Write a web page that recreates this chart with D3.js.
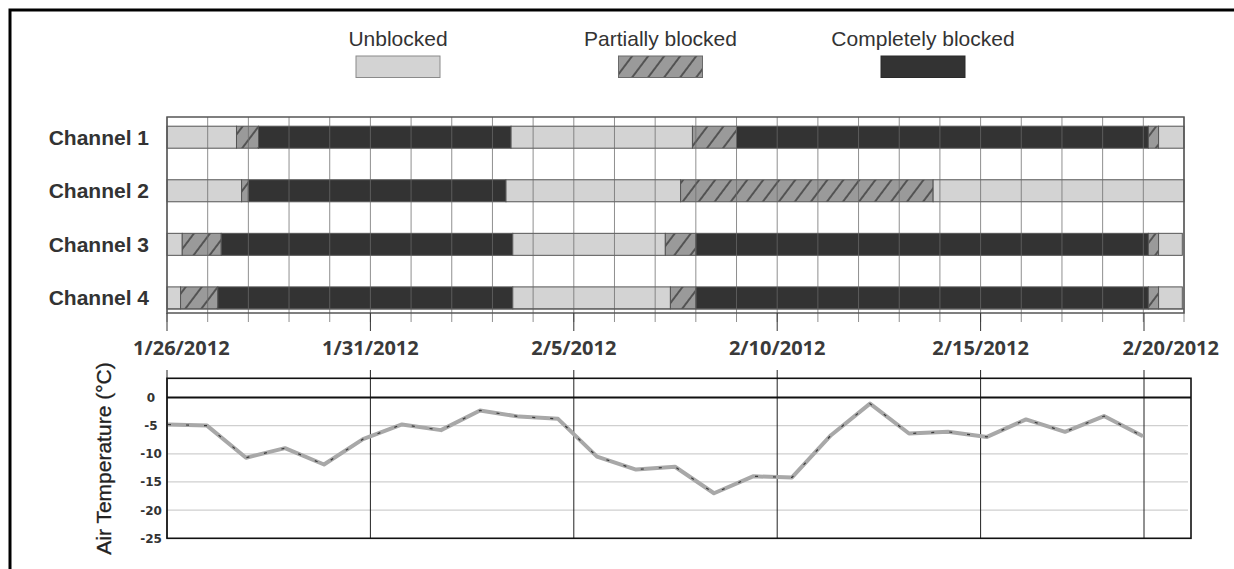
<!DOCTYPE html>
<html><head><meta charset="utf-8">
<script src="https://cdn.jsdelivr.net/npm/d3@7"></script>
<style>body{margin:0;background:#fff} svg{display:block}</style>
</head><body>
<svg id="c" width="1234" height="569"></svg>
<script>
// ---------- DATA ----------
const channels = ["Channel 1", "Channel 2", "Channel 3", "Channel 4"];
const stateCodes = ["U", "P", "C"];
const stateNames = ["Unblocked", "Partially blocked", "Completely blocked"];

// [state, start, end]
const channel1Segments = [
  ["U", "2012-01-26T00:00", "2012-01-27T17:00"],
  ["P", "2012-01-27T17:00", "2012-01-28T06:00"],
  ["C", "2012-01-28T06:00", "2012-02-03T11:00"],
  ["U", "2012-02-03T11:00", "2012-02-07T22:00"],
  ["P", "2012-02-07T22:00", "2012-02-09T00:00"],
  ["C", "2012-02-09T00:00", "2012-02-19T03:00"],
  ["P", "2012-02-19T03:00", "2012-02-19T09:00"],
  ["U", "2012-02-19T09:00", "2012-02-20T00:00"]
];
const channel2Segments = [
  ["U", "2012-01-26T00:00", "2012-01-27T20:00"],
  ["P", "2012-01-27T20:00", "2012-01-28T00:00"],
  ["C", "2012-01-28T00:00", "2012-02-03T08:00"],
  ["U", "2012-02-03T08:00", "2012-02-07T15:00"],
  ["P", "2012-02-07T15:00", "2012-02-13T20:00"],
  ["U", "2012-02-13T20:00", "2012-02-20T00:00"]
];
const channel3Segments = [
  ["U", "2012-01-26T00:00", "2012-01-26T09:00"],
  ["P", "2012-01-26T09:00", "2012-01-27T08:00"],
  ["C", "2012-01-27T08:00", "2012-02-03T12:00"],
  ["U", "2012-02-03T12:00", "2012-02-07T06:00"],
  ["P", "2012-02-07T06:00", "2012-02-08T00:00"],
  ["C", "2012-02-08T00:00", "2012-02-19T03:00"],
  ["P", "2012-02-19T03:00", "2012-02-19T09:00"],
  ["U", "2012-02-19T09:00", "2012-02-19T23:00"]
];
const channel4Segments = [
  ["U", "2012-01-26T00:00", "2012-01-26T08:00"],
  ["P", "2012-01-26T08:00", "2012-01-27T06:00"],
  ["C", "2012-01-27T06:00", "2012-02-03T12:00"],
  ["U", "2012-02-03T12:00", "2012-02-07T09:00"],
  ["P", "2012-02-07T09:00", "2012-02-08T00:00"],
  ["C", "2012-02-08T00:00", "2012-02-19T03:00"],
  ["P", "2012-02-19T03:00", "2012-02-19T09:00"],
  ["U", "2012-02-19T09:00", "2012-02-19T23:00"]
];

const tempDates = ["2012-01-26","2012-01-27","2012-01-28","2012-01-29","2012-01-30","2012-01-31",
  "2012-02-01","2012-02-02","2012-02-03","2012-02-04","2012-02-05","2012-02-06","2012-02-07",
  "2012-02-08","2012-02-09","2012-02-10","2012-02-11","2012-02-12","2012-02-13","2012-02-14",
  "2012-02-15","2012-02-16","2012-02-17","2012-02-18","2012-02-19","2012-02-20"];
const tempValues = [-4.8, -5.0, -10.7, -9.0, -11.9, -7.4,
  -4.8, -5.8, -2.3, -3.4, -3.8, -10.5, -12.8,
  -12.3, -17.0, -14.0, -14.2, -6.7, -1.1, -6.4,
  -6.1, -7.0, -3.9, -6.1, -3.3, -6.9];

const majorTickDates = ["2012-01-26","2012-01-31","2012-02-05","2012-02-10","2012-02-15","2012-02-20"];
const majorTickLabels = ["1/26/2012","1/31/2012","2/5/2012","2/10/2012","2/15/2012","2/20/2012"];
const tempTicks = [0, -5, -10, -15, -20, -25];

// ---------- SETUP ----------
const pT = d3.timeParse("%Y-%m-%dT%H:%M");
const pD = d3.timeParse("%Y-%m-%d");
const svg = d3.select("#c");
const ink = "#333";

const defs = svg.append("defs");
const pat = defs.append("pattern").attr("id", "hatch")
  .attr("patternUnits", "userSpaceOnUse").attr("width", 12.8).attr("height", 12.8)
  .attr("patternTransform", "rotate(37)");
pat.append("rect").attr("width", 12.8).attr("height", 12.8).attr("fill", "#9a9a9a");
pat.append("line").attr("x1", 1).attr("y1", 0).attr("x2", 1).attr("y2", 12.8)
  .attr("stroke", "#1a1a1a").attr("stroke-width", 1.1);

const fills = { U: "#d3d3d3", P: "url(#hatch)", C: "#333333" };
const strokes = { U: "#8a8a8a", P: "#6a6a6a", C: "#2a2a2a" };

// outer frame
svg.append("path").attr("d", "M10,569V10H1234").attr("fill", "none")
  .attr("stroke", "#000").attr("stroke-width", 3);

// ---------- LEGEND ----------
const legendX = d3.scalePoint().domain(stateCodes).range([398, 923]);
const lg = svg.append("g").selectAll("g").data(stateCodes).join("g");
lg.append("text").attr("x", d => legendX(d)).attr("y", 46).attr("text-anchor", "middle")
  .attr("font-family", "Liberation Sans, Arial, sans-serif").attr("font-size", 21).attr("fill", ink)
  .text((d, i) => stateNames[i]);
lg.append("rect").attr("x", d => legendX(d) - 42).attr("y", 56).attr("width", 84).attr("height", 21.5)
  .attr("fill", d => fills[d]).attr("stroke", d => strokes[d]).attr("stroke-width", 1);

// ---------- TOP CHART ----------
const start = pD("2012-01-26"), end = pD("2012-02-20");
const x = d3.scaleTime().domain([start, end]).range([167, 1184]);
const top0 = 117, bot0 = 313;
const y = d3.scalePoint().domain(channels).range([137.2, 297.9]);
const barH = 22;
const overlayX = d3.scaleTime().domain([start, pD("2012-02-15"), end])
  .range([x(start), x(pD("2012-02-15")), 1144]);

const allSegs = [channel1Segments, channel2Segments, channel3Segments, channel4Segments];
const gBars = svg.append("g");
allSegs.forEach((segs, ci) => {
  gBars.selectAll(null).data(segs).join("rect")
    .attr("x", d => x(pT(d[1])))
    .attr("width", d => x(pT(d[2])) - x(pT(d[1])))
    .attr("y", y(channels[ci]) - barH / 2).attr("height", barH)
    .attr("fill", d => fills[d[0]]).attr("stroke", "#555").attr("stroke-width", 1);
});

// day grid over bars
const days = d3.timeDay.range(start, d3.timeDay.offset(end, 1));
svg.append("g").selectAll("line").data(days).join("line")
  .attr("x1", d => x(d)).attr("x2", d => x(d)).attr("y1", top0).attr("y2", bot0 + 9)
  .attr("stroke", "#6a6a6a").attr("stroke-opacity", 0.75).attr("stroke-width", 1);

// frame
svg.append("rect").attr("x", x(start)).attr("y", top0).attr("width", x(end) - x(start))
  .attr("height", bot0 - top0).attr("fill", "none").attr("stroke", "#555").attr("stroke-width", 1.5);
svg.append("line").attr("x1", x(start)).attr("x2", x(end)).attr("y1", bot0 - 4).attr("y2", bot0 - 4)
  .attr("stroke", "#555").attr("stroke-width", 1.2);

// channel labels
svg.append("g").selectAll("text").data(channels).join("text")
  .attr("x", 149).attr("y", d => y(d) + 7.5).attr("text-anchor", "end")
  .attr("font-family", "Liberation Sans, Arial, sans-serif").attr("font-weight", "bold")
  .attr("font-size", 21).attr("fill", ink).text(d => d);

// major ticks
const majors = majorTickDates.map(pD);
svg.append("g").selectAll("line").data(majors).join("line")
  .attr("x1", d => overlayX(d)).attr("x2", d => overlayX(d)).attr("y1", bot0).attr("y2", 331)
  .attr("stroke", "#333").attr("stroke-width", 1);

// date labels: inner ones centred on their tick, end ones pulled inside the figure
const nLab = majors.length;
svg.append("g").selectAll("text").data(majors).join("text")
  .attr("y", 355)
  .attr("text-anchor", (d, i) => i === 0 ? "start" : (i === nLab - 1 ? "end" : "middle"))
  .attr("x", (d, i) => i === 0 ? overlayX(d) - 34 : (i === nLab - 1 ? 1219 : overlayX(d)))
  .attr("font-family", "Open Sans, sans-serif").attr("font-weight", "bold")
  .attr("font-size", 20).attr("fill", "#3a3a3a")
  .text((d, i) => majorTickLabels[i]);

// ---------- TEMPERATURE CHART ----------
const tx = d3.scaleTime().domain([start, end]).range([168, 1143]);
const ty = d3.scaleLinear().domain([-25, 3.4]).range([538.3, 378.3]);
const tL = 167, tR = 1191;

svg.append("g").selectAll("line").data(tempTicks.filter(v => v < 0 && v > -25)).join("line")
  .attr("x1", tL).attr("x2", tR - 3).attr("y1", d => ty(d)).attr("y2", d => ty(d))
  .attr("stroke", "#cfcfcf").attr("stroke-width", 1.2);

// vertical date lines
svg.append("g").selectAll("line").data(majors).join("line")
  .attr("x1", d => overlayX(d)).attr("x2", d => overlayX(d)).attr("y1", 370).attr("y2", ty(-25))
  .attr("stroke", "#222").attr("stroke-width", 1);

// zero line
svg.append("line").attr("x1", tL).attr("x2", tR).attr("y1", ty(0)).attr("y2", ty(0))
  .attr("stroke", "#111").attr("stroke-width", 2);

// frame
svg.append("rect").attr("x", tL).attr("y", ty(3.4)).attr("width", tR - tL)
  .attr("height", ty(-25) - ty(3.4)).attr("fill", "none").attr("stroke", "#111").attr("stroke-width", 1.6);

// line
const line = d3.line().x((d, i) => tx(pD(tempDates[i]))).y(d => ty(d));
svg.append("path").datum(tempValues).attr("d", line).attr("fill", "none")
  .attr("stroke", "#a8a8a8").attr("stroke-width", 4).attr("stroke-linejoin", "round");
svg.append("path").datum(tempValues).attr("d", line).attr("fill", "none")
  .attr("stroke", "#3a3a3a").attr("stroke-width", 1.2).attr("stroke-dasharray", "3,15");

// y tick labels
svg.append("g").selectAll("text").data(tempTicks).join("text")
  .attr("x", 151).attr("y", d => ty(d) + 4.5).attr("text-anchor", "middle")
  .attr("font-family", "DejaVu Sans, sans-serif").attr("font-weight", "bold")
  .attr("font-size", 12).attr("fill", ink).text(d => d);

// y title
svg.append("text").attr("transform", "translate(111,458.5) rotate(-90)")
  .attr("text-anchor", "middle").attr("font-family", "Liberation Sans, Arial, sans-serif")
  .attr("font-size", 21).attr("fill", "#222").attr("stroke", "#222").attr("stroke-width", 0.3)
  .text("Air Temperature (°C)");
</script>
</body></html>
